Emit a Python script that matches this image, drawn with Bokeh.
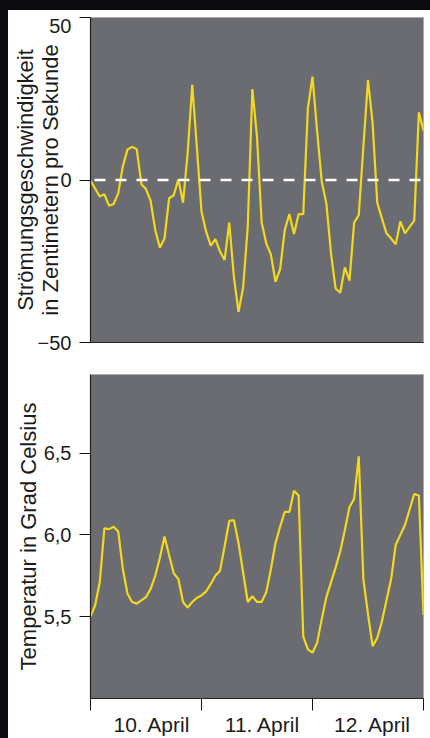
from bokeh.plotting import figure
from bokeh.layouts import column, row
from bokeh.models import FixedTicker, Span, Range1d, Spacer
from bokeh.embed import file_html
from bokeh.resources import INLINE

# ---- data (hourly, 10.-12. April) ----
hours = list(range(73))
velocity = [
    -0.2, -2.6, -5.1, -4.4, -7.9, -7.4, -4.1, 4.3, 9.4, 10.2, 9.5, -1.3,
    -2.8, -6.4, -15.4, -20.8, -18.0, -5.6, -4.7, 0.2, -7.0, 8.2, 29.3, 10.0,
    -9.7, -15.9, -20.2, -18.2, -22.0, -24.6, -13.1, -29.7, -40.6, -33.1, -14.4, 28.0,
    13.3, -13.0, -19.5, -22.9, -31.3, -27.5, -15.4, -10.5, -16.6, -10.5, -10.5, 22.0,
    31.8, 15.0, -0.5, -7.2, -22.6, -33.4, -34.7, -26.9, -31.0, -13.1, -10.8, 10.2,
    30.8, 17.4, -7.0, -11.8, -16.4, -18.0, -19.8, -12.7, -16.4, -14.4, -12.5, 20.8,
    15.2,
]
temperature = [
    5.50, 5.57, 5.71, 6.04, 6.035, 6.05, 6.02, 5.79, 5.64, 5.59, 5.58, 5.60,
    5.62, 5.67, 5.75, 5.86, 5.99, 5.875, 5.765, 5.73, 5.59, 5.555, 5.59, 5.615,
    5.63, 5.655, 5.70, 5.75, 5.78, 5.93, 6.085, 6.09, 5.95, 5.77, 5.59, 5.625,
    5.59, 5.59, 5.65, 5.79, 5.95, 6.05, 6.14, 6.14, 6.27, 6.24, 5.38, 5.30,
    5.28, 5.34, 5.485, 5.62, 5.71, 5.80, 5.90, 6.03, 6.17, 6.22, 6.48, 5.73,
    5.515, 5.32, 5.37, 5.47, 5.60, 5.73, 5.94, 6.00, 6.06, 6.155, 6.25, 6.24,
    5.51,
]
day_ticks = [0, 24, 48, 72]
day_label_pos = [13.3, 37.2, 61.0]
day_labels = ["10. April", "11. April", "12. April"]
vel_ticks = [-50, 0, 50]
vel_label_pos = [-50, 0, 47.5]          # top label sits a little below its tick, as in the original
vel_tick_labels = ["\u221250", "0", "50"]
temp_ticks = [5.5, 6.0, 6.5]
temp_tick_labels = ["5,5", "6,0", "6,5"]
vel_title = "Strömungsgeschwindigkeit\nin Zentimetern pro Sekunde"
temp_title = "Temperatur in Grad Celsius"

BG = "#6a6c71"
YEL = "#f3d91e"
FONT = "Liberation Sans"
TXT = "#1c1c1c"
DARK = "#0b0b0f"


def style_y(p, label_pos, tick_pos, labels, title, standoff):
    ax = p.yaxis[0]
    ax.ticker = FixedTicker(ticks=label_pos, minor_ticks=tick_pos)
    ax.major_label_overrides = {t: l for t, l in zip(label_pos, labels)}
    ax.major_tick_out = 11
    ax.major_tick_in = 0
    ax.major_tick_line_color = None
    ax.minor_tick_out = 11
    ax.minor_tick_in = 0
    ax.minor_tick_line_color = "#111111"
    ax.axis_line_color = "#222222"
    ax.axis_line_width = 1.2
    ax.major_label_standoff = 8
    ax.major_label_text_font = FONT
    ax.major_label_text_font_size = "20px"
    ax.major_label_text_color = TXT
    ax.axis_label = title
    ax.axis_label_text_font = FONT
    ax.axis_label_text_font_size = "22px"
    ax.axis_label_text_font_style = "normal"
    ax.axis_label_text_color = TXT
    ax.axis_label_text_line_height = 1.0
    ax.axis_label_standoff = standoff


# ---- top panel ----
p1 = figure(width=422, height=344, x_range=Range1d(0, 72), y_range=Range1d(-50, 50),
            output_backend="svg", toolbar_location=None,
            min_border_left=82, min_border_right=7, min_border_top=7, min_border_bottom=12,
            background_fill_color=BG, border_fill_color="white",
            outline_line_color="#a8aaad", outline_line_width=1)
p1.grid.visible = False
xa1 = p1.xaxis[0]
xa1.ticker = FixedTicker(ticks=[], minor_ticks=[])
xa1.major_tick_out = 0
xa1.minor_tick_out = 0
xa1.axis_line_color = "#222222"
xa1.axis_line_width = 1.2
style_y(p1, vel_label_pos, vel_ticks, vel_tick_labels, vel_title, -28)

p1.line(hours, velocity, line_color=YEL, line_width=2.2)
p1.add_layout(Span(location=0, dimension="width", line_color="white", line_width=2.5,
                   line_dash="11 10", line_dash_offset=17))

# ---- bottom panel ----
p2 = figure(width=422, height=384, x_range=Range1d(0, 72), y_range=Range1d(5.0, 6.98),
            output_backend="svg", toolbar_location=None,
            min_border_left=82, min_border_right=7, min_border_top=20, min_border_bottom=40,
            background_fill_color=BG, border_fill_color="white",
            outline_line_color="#a8aaad", outline_line_width=1)
p2.grid.visible = False
xa2 = p2.xaxis[0]
xa2.ticker = FixedTicker(ticks=day_label_pos, minor_ticks=day_ticks)
xa2.major_label_overrides = {t: l for t, l in zip(day_label_pos, day_labels)}
xa2.major_tick_line_color = None
xa2.major_tick_out = 12
xa2.major_tick_in = 0
xa2.minor_tick_out = 12
xa2.minor_tick_in = 0
xa2.minor_tick_line_color = "#111111"
xa2.axis_line_color = "#222222"
xa2.axis_line_width = 1.2
xa2.major_label_standoff = 2
xa2.major_label_text_font = FONT
xa2.major_label_text_font_size = "21px"
xa2.major_label_text_color = TXT
style_y(p2, temp_ticks, temp_ticks, temp_tick_labels, temp_title, 0)

p2.line(hours, temperature, line_color=YEL, line_width=2.2)

left_bar = Spacer(width=8, height=738, styles={"background-color": DARK})
top_bar = Spacer(width=422, height=10, styles={"background-color": DARK})
layout = row(left_bar, column(top_bar, p1, p2, spacing=0), spacing=0)
open("out.html", "w").write(file_html(layout, INLINE))
